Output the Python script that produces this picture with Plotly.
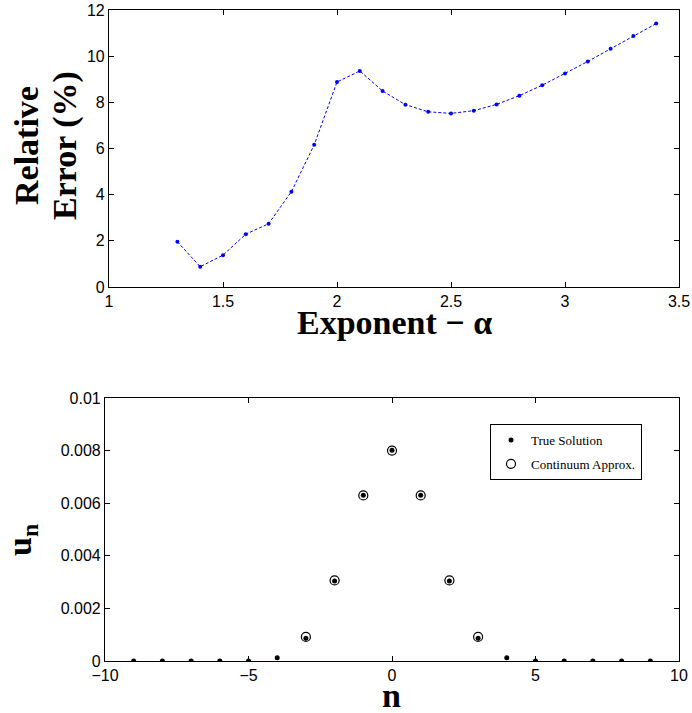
import plotly.graph_objects as go

# ---- data: top panel ----
alpha = [1.3, 1.4, 1.5, 1.6, 1.7, 1.8, 1.9, 2.0, 2.1, 2.2, 2.3,
         2.4, 2.5, 2.6, 2.7, 2.8, 2.9, 3.0, 3.1, 3.2, 3.3, 3.4]
rel_err = [1.96, 0.88, 1.38, 2.29, 2.74, 4.13, 6.16, 8.88, 9.36, 8.49, 7.90,
           7.59, 7.52, 7.64, 7.91, 8.29, 8.74, 9.25, 9.77, 10.32, 10.87, 11.41]
top_xticks = [1, 1.5, 2, 2.5, 3, 3.5]
top_xtext = ["1", "1.5", "2", "2.5", "3", "3.5"]
top_yticks = [0, 2, 4, 6, 8, 10, 12]
top_ytext = ["0", "2", "4", "6", "8", "10", "12"]

# ---- data: bottom panel ----
n_true = [-9, -8, -7, -6, -5, -4, -3, -2, -1, 0, 1, 2, 3, 4, 5, 6, 7, 8, 9]
u_true = [0, 0, 0, 0, 0, 0.000127, 0.000865, 0.00304, 0.00630, 0.00801,
          0.00630, 0.00304, 0.000865, 0.000127, 0, 0, 0, 0, 0]
n_cont = [-3, -2, -1, 0, 1, 2, 3]
u_cont = [0.000916, 0.003065, 0.006296, 0.00800, 0.006296, 0.003065, 0.000916]
bot_xticks = [-10, -5, 0, 5, 10]
bot_xtext = ["\u221210", "\u22125", "0", "5", "10"]
bot_yticks = [0, 0.002, 0.004, 0.006, 0.008, 0.01]
bot_ytext = ["0", "0.002", "0.004", "0.006", "0.008", "0.01"]

W, H = 692, 713
def px(x):
    return x / W
def py(y):
    return 1 - y / H

TICKFONT = dict(family="Liberation Sans, Arial", size=16, color="black")
SERIF = "Liberation Serif, Times New Roman"

fig = go.Figure()
fig.add_trace(go.Scatter(
    x=alpha, y=rel_err, mode="lines+markers",
    line=dict(color="#0000ff", width=1, dash="3px,2px"),
    marker=dict(color="#0000ff", size=4),
    xaxis="x", yaxis="y", showlegend=False))

fig.add_trace(go.Scatter(
    x=n_true, y=u_true, mode="markers", name="True Solution",
    legendgroup="a",
    marker=dict(color="black", size=5, symbol="circle"),
    xaxis="x2", yaxis="y2"))
fig.add_trace(go.Scatter(
    x=n_cont, y=u_cont, mode="markers", name="Continuum Approx.",
    legendgroup="b",
    marker=dict(color="black", size=9, symbol="circle-open", line=dict(width=1.2)),
    xaxis="x2", yaxis="y2"))

axis_common = dict(showline=True, linecolor="black", linewidth=1.2, mirror="allticks",
                   ticks="inside", ticklen=5, tickcolor="black", tickwidth=1,
                   showgrid=False, zeroline=False, tickfont=TICKFONT, automargin=False,
                   ticklabeloverflow="allow")

fig.update_layout(
    width=W, height=H,
    margin=dict(l=0, r=0, t=0, b=0),
    paper_bgcolor="white", plot_bgcolor="white",
    xaxis=dict(domain=[px(109), px(679)], range=[1, 3.5], anchor="y",
               tickvals=top_xticks, ticktext=top_xtext, **axis_common),
    yaxis=dict(domain=[py(287), py(10)], range=[0, 12], anchor="x",
               tickvals=top_yticks, ticktext=top_ytext, **axis_common),
    xaxis2=dict(domain=[px(105), px(679)], range=[-10, 10], anchor="y2",
                tickvals=bot_xticks, ticktext=bot_xtext, **axis_common),
    yaxis2=dict(domain=[py(661), py(398)], range=[0, 0.01], anchor="x2",
                tickvals=bot_yticks, ticktext=bot_ytext, **axis_common),
    legend=dict(x=px(490), y=py(424), xanchor="left", yanchor="top",
                bgcolor="white", bordercolor="black", borderwidth=1,
                font=dict(family=SERIF, size=13, color="black"),
                itemwidth=30, traceorder="grouped", tracegroupgap=4),
    showlegend=True,
)

ann = [
    dict(text="<b>Exponent \u2212 \u03b1</b>", x=px(394), y=py(322), yanchor="middle"),
    dict(text="<b>Relative</b>", x=px(26), y=py(146), textangle=-90, yanchor="middle"),
    dict(text="<b>Error (%)</b>", x=px(65), y=py(146), textangle=-90, yanchor="middle"),
    dict(text="<b>n</b>", x=px(391), y=py(716), yanchor="bottom"),
    dict(text="<b>u<sub>n</sub></b>", x=px(22), y=py(540), textangle=-90, yanchor="middle"),
]
for a in ann:
    fig.add_annotation(xref="paper", yref="paper", showarrow=False,
                       xanchor="center",
                       font=dict(family=SERIF, size=34, color="black"), **a)

fig.write_html("out.html", config={"displayModeBar": False},
               post_script="document.body.style.margin='0';document.body.style.padding='0';")
